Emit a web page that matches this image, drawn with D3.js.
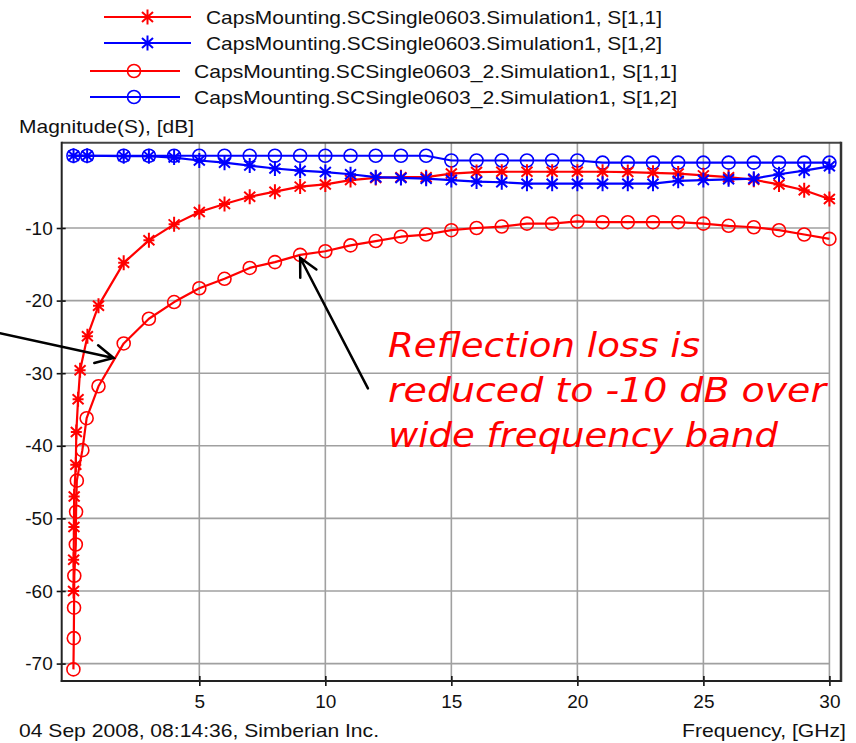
<!DOCTYPE html>
<html>
<head>
<meta charset="utf-8">
<script src="https://cdn.jsdelivr.net/npm/d3@7/dist/d3.min.js"></script>
<style>
  body { margin: 0; background: #ffffff; }
  svg { display: block; }
</style>
</head>
<body>
<script>
// ---- data (frequency in GHz, magnitude in dB) ----
const sweepGHz = [2, 3, 4, 5, 6, 7, 8, 9, 10, 11, 12, 13, 14, 15, 16,
                  17, 18, 19, 20, 21, 22, 23, 24, 25, 26, 27, 28, 29, 30];

const freqSim1S11 = [0.01, 0.015, 0.025, 0.035, 0.10, 0.12, 0.19, 0.27, 0.56, 1, ...sweepGHz];
const sim1S11 = [-60.0, -55.7, -51.2, -47.0, -42.6, -38.1, -33.6, -29.6, -24.9, -20.7,
                 -14.8, -11.7, -9.5, -7.8, -6.7, -5.7, -5.0, -4.3, -4.0, -3.4,
                 -3.1, -3.0, -3.0, -2.5, -2.3, -2.25, -2.25, -2.25, -2.25, -2.25,
                 -2.3, -2.4, -2.5, -2.75, -3.0, -3.35, -4.0, -4.8, -6.0];

const freqSim1S12 = [0.01, 0.55, ...sweepGHz];
const sim1S12 = [-0.05, -0.05,
                 -0.1, -0.1, -0.3, -0.7, -1.0, -1.4, -1.8, -2.1, -2.3, -2.6,
                 -3.0, -3.1, -3.2, -3.4, -3.6, -3.7, -3.9, -3.9, -3.9, -3.9,
                 -3.9, -3.9, -3.5, -3.4, -3.3, -3.2, -2.6, -2.1, -1.5];

const freqSim2S11 = [0.005, 0.02, 0.03, 0.04, 0.10, 0.11, 0.14, 0.36, 0.53, 1, ...sweepGHz];
const sim2S11 = [-70.8, -66.5, -62.3, -57.9, -53.6, -49.1, -44.8, -40.6, -36.2, -31.8,
                 -25.9, -22.5, -20.2, -18.3, -17.0, -15.5, -14.7, -13.7, -13.2, -12.4,
                 -11.8, -11.2, -10.9, -10.3, -10.0, -9.8, -9.4, -9.4, -9.1, -9.2,
                 -9.2, -9.2, -9.2, -9.4, -9.7, -9.9, -10.3, -10.9, -11.5];

const freqSim2S12 = [0.005, 0.55, ...sweepGHz];
const sim2S12 = [-0.05, -0.05,
                 -0.05, -0.05, -0.05, -0.05, -0.05, -0.05, -0.05, -0.05, -0.05, -0.05,
                 -0.05, -0.05, -0.05, -0.7, -0.7, -0.7, -0.7, -0.7, -0.7, -1.0,
                 -1.0, -1.0, -1.0, -1.0, -1.0, -1.0, -1.0, -1.0, -1.0];

const seriesNames = [
  "CapsMounting.SCSingle0603.Simulation1, S[1,1]",
  "CapsMounting.SCSingle0603.Simulation1, S[1,2]",
  "CapsMounting.SCSingle0603_2.Simulation1, S[1,1]",
  "CapsMounting.SCSingle0603_2.Simulation1, S[1,2]"
];

const xTicks = [5, 10, 15, 20, 25, 30];
const yTicks = [-10, -20, -30, -40, -50, -60, -70];

const yAxisTitle = "Magnitude(S), [dB]";
const xAxisTitle = "Frequency, [GHz]";
const stampText = "04 Sep 2008, 08:14:36, Simberian Inc.";
const noteLines = ["Reflection loss is", "reduced to -10 dB over", "wide frequency band"];

// ---- layout ----
const W = 856, H = 743;
const plotL = 61.7, plotR = 841, plotT = 142.7, plotB = 681;
const RED = "#ff0000", BLUE = "#0000ff";
const FONT = "'Liberation Sans', Arial, sans-serif";

const svg = d3.select("body").append("svg")
  .attr("width", W).attr("height", H)
  .attr("viewBox", `0 0 ${W} ${H}`);

const x = d3.scaleLinear().domain([-0.46, 30.46]).range([plotL, plotR]);
const y = d3.scaleLinear().domain([-72.4, 1.75]).range([plotB, plotT]);

const series = [
  { name: seriesNames[0], f: freqSim1S11, v: sim1S11, color: RED,  marker: "star" },
  { name: seriesNames[1], f: freqSim1S12, v: sim1S12, color: BLUE, marker: "star" },
  { name: seriesNames[2], f: freqSim2S11, v: sim2S11, color: RED,  marker: "circle" },
  { name: seriesNames[3], f: freqSim2S12, v: sim2S12, color: BLUE, marker: "circle" }
];

// grid
const grid = svg.append("g").attr("stroke", "#a0a0a0").attr("stroke-width", 1.6);
grid.selectAll("line.gx").data(xTicks).join("line")
  .attr("x1", d => x(d)).attr("x2", d => x(d))
  .attr("y1", plotT).attr("y2", plotB);
grid.selectAll("line.gy").data(yTicks).join("line")
  .attr("x1", plotL).attr("x2", x(30))
  .attr("y1", d => y(d)).attr("y2", d => y(d));

// marker shapes
const starPath = "M0,-7.5V7.5M-5.5,-5L5.5,5M-5.5,5L5.5,-5M-5.5,0H5.5";
function drawMarker(g, type, color) {
  if (type === "star") {
    g.append("path").attr("d", starPath).attr("stroke", color)
      .attr("stroke-width", 2).attr("fill", "none");
  } else {
    g.append("circle").attr("r", 6.5).attr("stroke", color)
      .attr("stroke-width", 1.6).attr("fill", "none");
  }
}

// series lines with markers at every sample
const line = d3.line().x(d => x(d[0])).y(d => y(d[1]));
const drawOrder = [2, 3, 0, 1];
drawOrder.forEach(i => {
  const s = series[i];
  const pts = s.f.map((f, k) => [f, s.v[k]]);
  const g = svg.append("g");
  g.append("path").datum(pts).attr("d", line)
    .attr("fill", "none").attr("stroke", s.color).attr("stroke-width", 2.2)
    .attr("stroke-linejoin", "round");
  g.selectAll("g.m").data(pts).join("g")
    .attr("transform", d => `translate(${x(d[0])},${y(d[1])})`)
    .each(function () { drawMarker(d3.select(this), s.marker, s.color); });
});

// axes
const yAxis = d3.axisLeft(y).tickValues(yTicks).tickSize(5).tickPadding(4)
  .tickFormat(d => String(d));
const gy = svg.append("g").attr("transform", `translate(${plotL},0)`).call(yAxis);
gy.select(".domain").remove();
gy.selectAll(".tick line").attr("x1", 4).attr("stroke", "#111").attr("stroke-width", 1.6);
gy.selectAll(".tick text").attr("font-family", FONT).attr("font-size", 19).attr("fill", "#111");

const xAxis = d3.axisBottom(x).tickValues(xTicks).tickSize(5).tickPadding(9)
  .tickFormat(d => String(d));
const gx = svg.append("g").attr("transform", `translate(0,${plotB})`).call(xAxis);
gx.select(".domain").remove();
gx.selectAll(".tick line").attr("y1", -5).attr("stroke", "#111").attr("stroke-width", 1.6);
gx.selectAll(".tick text").attr("font-family", FONT).attr("font-size", 19).attr("fill", "#111");

// frame
svg.append("line").attr("x1", plotL).attr("x2", plotR).attr("y1", plotT).attr("y2", plotT)
  .attr("stroke", "#444").attr("stroke-width", 2);
svg.append("line").attr("x1", plotR).attr("x2", plotR).attr("y1", plotT - 1).attr("y2", plotB + 1)
  .attr("stroke", "#333").attr("stroke-width", 2.5);
svg.append("line").attr("x1", plotL).attr("x2", plotL).attr("y1", plotT - 1).attr("y2", plotB + 1)
  .attr("stroke", "#222").attr("stroke-width", 2);
svg.append("line").attr("x1", plotL - 1).attr("x2", plotR).attr("y1", plotB).attr("y2", plotB)
  .attr("stroke", "#222").attr("stroke-width", 2);

// legend
const legendRows = [
  { y: 24,  x0: 104, x1: 191, mx: 147.5, tx: 206, tw: 456 },
  { y: 50,  x0: 104, x1: 191, mx: 147.5, tx: 206, tw: 456 },
  { y: 78,  x0: 90,  x1: 180, mx: 134,   tx: 194, tw: 483 },
  { y: 104, x0: 90,  x1: 180, mx: 134,   tx: 194, tw: 483 }
];
series.forEach((s, i) => {
  const r = legendRows[i];
  const ly = r.y - 7;
  svg.append("line").attr("x1", r.x0).attr("x2", r.x1).attr("y1", ly).attr("y2", ly)
    .attr("stroke", s.color).attr("stroke-width", 2);
  const mg = svg.append("g").attr("transform", `translate(${r.mx},${ly})`);
  drawMarker(mg, s.marker, s.color);
  svg.append("text").attr("x", r.tx).attr("y", r.y)
    .attr("font-family", FONT).attr("font-size", 19).attr("fill", "#111")
    .attr("textLength", r.tw).attr("lengthAdjust", "spacingAndGlyphs")
    .text(s.name);
});

// axis titles and stamp
svg.append("text").attr("x", 19).attr("y", 133)
  .attr("font-family", FONT).attr("font-size", 19).attr("fill", "#111")
  .attr("textLength", 175).attr("lengthAdjust", "spacingAndGlyphs")
  .text(yAxisTitle);
svg.append("text").attr("x", 19).attr("y", 737)
  .attr("font-family", FONT).attr("font-size", 19).attr("fill", "#111")
  .attr("textLength", 360).attr("lengthAdjust", "spacingAndGlyphs")
  .text(stampText);
svg.append("text").attr("x", 682).attr("y", 737)
  .attr("font-family", FONT).attr("font-size", 19).attr("fill", "#111")
  .attr("textLength", 164).attr("lengthAdjust", "spacingAndGlyphs")
  .text(xAxisTitle);

// annotation text
const noteWidths = [312, 438, 390];
noteLines.forEach((t, i) => {
  svg.append("text").attr("x", 388).attr("y", 357 + i * 45)
    .attr("font-family", "'DejaVu Sans', Verdana, sans-serif")
    .attr("font-style", "italic").attr("font-size", 34).attr("fill", RED)
    .attr("textLength", noteWidths[i]).attr("lengthAdjust", "spacingAndGlyphs")
    .text(t);
});

// annotation arrows (tail and tip in data coordinates)
const arrows = [
  { from: [-2.91, -24.5], to: [1.6, -27.9] },
  { from: [11.69, -32.1], to: [9.0, -14.1] }
];
arrows.forEach(a => {
  const x0 = x(a.from[0]), y0 = y(a.from[1]);
  const x1 = x(a.to[0]), y1 = y(a.to[1]);
  const ang = Math.atan2(y1 - y0, x1 - x0);
  const L = 20, spread = 27 * Math.PI / 180;
  const hx1 = x1 - L * Math.cos(ang - spread), hy1 = y1 - L * Math.sin(ang - spread);
  const hx2 = x1 - L * Math.cos(ang + spread), hy2 = y1 - L * Math.sin(ang + spread);
  svg.append("path")
    .attr("d", `M${x0},${y0}L${x1},${y1}M${hx1},${hy1}L${x1},${y1}L${hx2},${hy2}`)
    .attr("fill", "none").attr("stroke", "#000").attr("stroke-width", 2.5)
    .attr("stroke-linecap", "round").attr("stroke-linejoin", "miter");
});
</script>
</body>
</html>
